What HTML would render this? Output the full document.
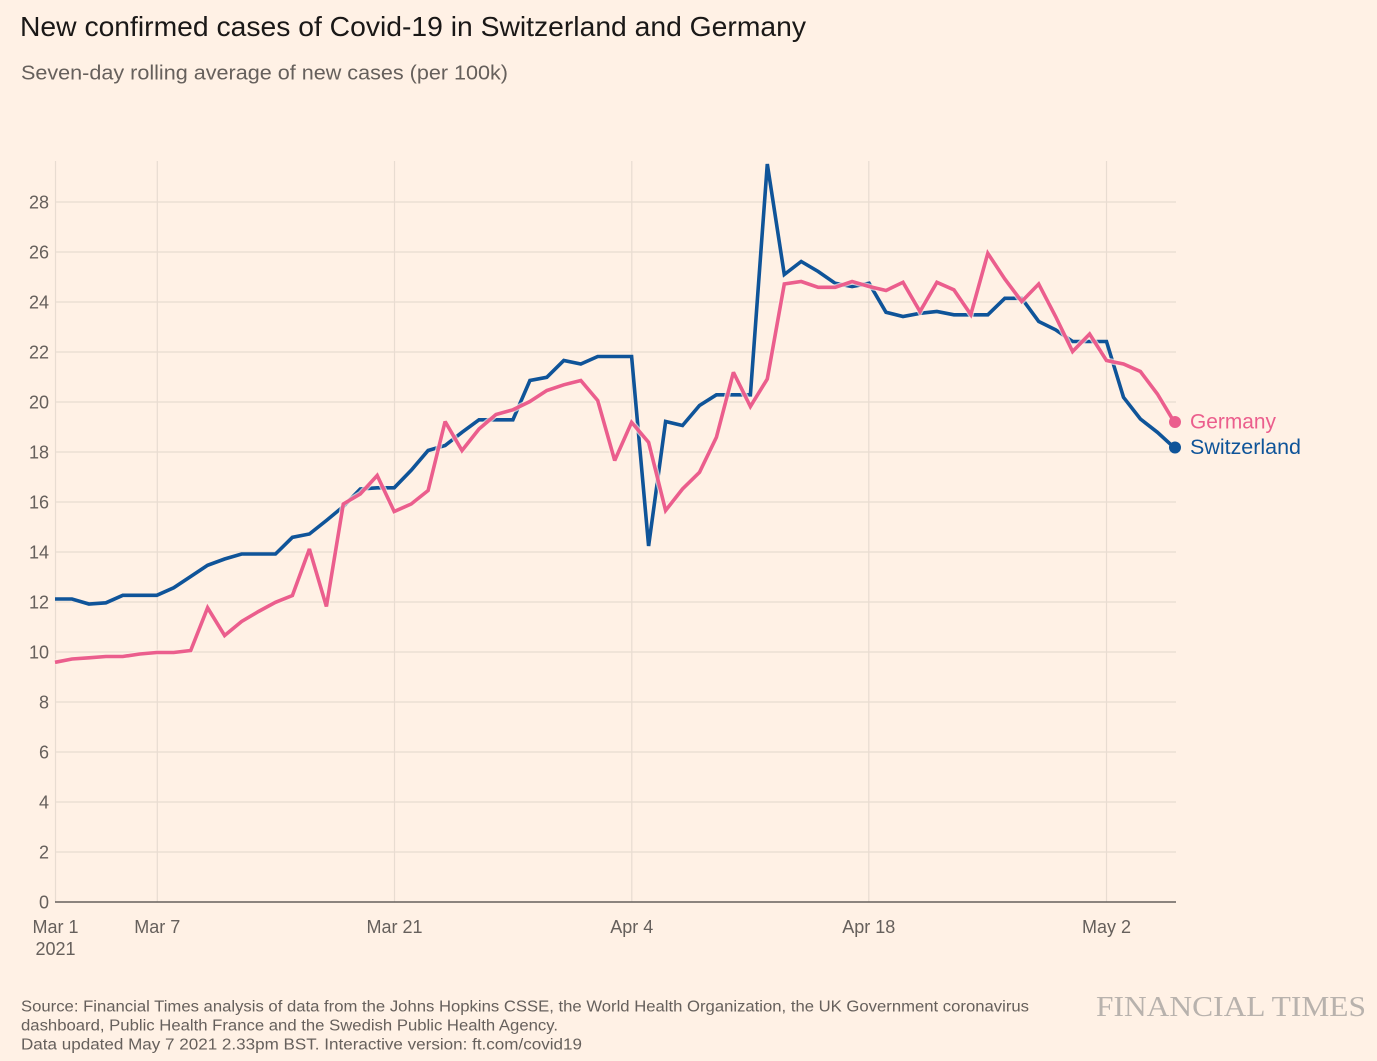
<!DOCTYPE html>
<html>
<head>
<meta charset="utf-8">
<style>
  html,body{margin:0;padding:0;background:#fff1e5;}
  svg{display:block;}
  text{font-family:"Liberation Sans",sans-serif;}
</style>
</head>
<body>
<svg width="1377" height="1061" viewBox="0 0 1377 1061" xmlns="http://www.w3.org/2000/svg">
  <rect x="0" y="0" width="1377" height="1061" fill="#fff1e5"/>

  <!-- Title / subtitle -->
  <text x="20" y="36" font-size="28" fill="#1a1817" textLength="786" lengthAdjust="spacingAndGlyphs">New confirmed cases of Covid-19 in Switzerland and Germany</text>
  <text x="21" y="79.5" font-size="20" fill="#66605c" textLength="487" lengthAdjust="spacingAndGlyphs">Seven-day rolling average of new cases (per 100k)</text>

  <!-- Horizontal gridlines -->
  <g stroke="#e8dcd1" stroke-width="1.3">
    <line x1="55" y1="852" x2="1176" y2="852"/>
    <line x1="55" y1="802" x2="1176" y2="802"/>
    <line x1="55" y1="752" x2="1176" y2="752"/>
    <line x1="55" y1="702" x2="1176" y2="702"/>
    <line x1="55" y1="652" x2="1176" y2="652"/>
    <line x1="55" y1="602" x2="1176" y2="602"/>
    <line x1="55" y1="552" x2="1176" y2="552"/>
    <line x1="55" y1="502" x2="1176" y2="502"/>
    <line x1="55" y1="452" x2="1176" y2="452"/>
    <line x1="55" y1="402" x2="1176" y2="402"/>
    <line x1="55" y1="352" x2="1176" y2="352"/>
    <line x1="55" y1="302" x2="1176" y2="302"/>
    <line x1="55" y1="252" x2="1176" y2="252"/>
    <line x1="55" y1="202" x2="1176" y2="202"/>
  </g>
  <!-- Vertical gridlines -->
  <g stroke="#e8dcd1" stroke-width="1.2">
    <line x1="55.5" y1="161" x2="55.5" y2="902"/>
    <line x1="157.3" y1="161" x2="157.3" y2="902"/>
    <line x1="394.5" y1="161" x2="394.5" y2="902"/>
    <line x1="631.8" y1="161" x2="631.8" y2="902"/>
    <line x1="868.8" y1="161" x2="868.8" y2="902"/>
    <line x1="1106.5" y1="161" x2="1106.5" y2="902"/>
  </g>
  <!-- Axis line -->
  <line x1="55" y1="902" x2="1176" y2="902" stroke="#66605c" stroke-width="1.4"/>

  <!-- Y tick labels -->
  <g font-size="18" fill="#66605c" text-anchor="end">
    <text x="49" y="908.5">0</text>
    <text x="49" y="858.5">2</text>
    <text x="49" y="808.5">4</text>
    <text x="49" y="758.5">6</text>
    <text x="49" y="708.5">8</text>
    <text x="49" y="658.5">10</text>
    <text x="49" y="608.5">12</text>
    <text x="49" y="558.5">14</text>
    <text x="49" y="508.5">16</text>
    <text x="49" y="458.5">18</text>
    <text x="49" y="408.5">20</text>
    <text x="49" y="358.5">22</text>
    <text x="49" y="308.5">24</text>
    <text x="49" y="258.5">26</text>
    <text x="49" y="208.5">28</text>
  </g>

  <!-- X tick labels -->
  <g font-size="18" fill="#66605c" text-anchor="middle">
    <text x="55.5" y="933">Mar 1</text>
    <text x="55.5" y="955">2021</text>
    <text x="157.3" y="933">Mar 7</text>
    <text x="394.5" y="933">Mar 21</text>
    <text x="631.8" y="933">Apr 4</text>
    <text x="868.8" y="933">Apr 18</text>
    <text x="1106.5" y="933">May 2</text>
  </g>

  <!-- Switzerland series -->
  <polyline fill="none" stroke="#0f5499" stroke-width="3.6" stroke-linejoin="miter" stroke-miterlimit="2.5"
    points="55,599 72,599 88.9,604 105.9,602.8 122.8,595.3 139.8,595.3 156.8,595.3 173.7,587.8 190.7,576.5 207.6,565.3 224.6,559 241.6,554 258.5,554 275.5,554 292.4,537.3 309.4,534 326.4,520.5 343.3,506.5 360.3,489 377.2,487.8 394.2,487.8 411.2,470.3 428.1,450.5 445.1,445.5 462,432.3 479,419.8 496,419.8 512.9,419.8 529.9,380.5 546.8,377.3 563.8,360.5 580.8,364 597.7,356.5 614.7,356.5 631.6,356.5 648.6,546 665.6,421.5 682.5,425.5 699.5,405.5 716.4,394.8 733.4,394.8 750.4,394.8 767.3,164 784.3,274.5 801.2,261.5 818.2,271.5 835.2,283.3 852.1,286.5 869.1,283.3 886,312.3 903,316.5 920,313.3 936.9,311.5 953.9,314.8 970.8,314.8 987.8,314.8 1004.8,298.3 1021.7,298.3 1038.7,321.5 1055.6,329.8 1072.6,341.5 1089.6,341.5 1106.5,341.5 1123.5,397.3 1140.4,419 1157.4,432.3 1174.4,447.8"/>

  <!-- Germany series (halo + line) -->
  <polyline fill="none" stroke="#fff1e5" stroke-opacity="0.7" stroke-width="6" stroke-linejoin="miter" stroke-miterlimit="2.5"
    points="55,662.3 72,659 88.9,657.8 105.9,656.5 122.8,656.5 139.8,654 156.8,652.5 173.7,652.5 190.7,650.5 207.6,607.8 224.6,635.5 241.6,621.5 258.5,611.5 275.5,602.3 292.4,595.5 309.4,549 326.4,606.5 343.3,504 360.3,494 377.2,475.5 394.2,511.5 411.2,504 428.1,490.5 445.1,421.5 462,450.5 479,429 496,414.5 512.9,409.8 529.9,401.5 546.8,390.5 563.8,384.8 580.8,380.5 597.7,400.5 614.7,460.5 631.6,422.3 648.6,442.3 665.6,510.5 682.5,489 699.5,472.3 716.4,437.3 733.4,372.3 750.4,406.5 767.3,379 784.3,284 801.2,281.5 818.2,287.3 835.2,287.3 852.1,281.5 869.1,286.5 886,290.5 903,282.3 920,311.5 936.9,282.3 953.9,289.8 970.8,314.5 987.8,253.3 1004.8,279 1021.7,301.5 1038.7,284 1055.6,316.5 1072.6,351.5 1089.6,334 1106.5,360.5 1123.5,364 1140.4,371.5 1157.4,394 1174.4,422.3"/>
  <polyline fill="none" stroke="#eb5e8d" stroke-width="3.6" stroke-linejoin="miter" stroke-miterlimit="2.5"
    points="55,662.3 72,659 88.9,657.8 105.9,656.5 122.8,656.5 139.8,654 156.8,652.5 173.7,652.5 190.7,650.5 207.6,607.8 224.6,635.5 241.6,621.5 258.5,611.5 275.5,602.3 292.4,595.5 309.4,549 326.4,606.5 343.3,504 360.3,494 377.2,475.5 394.2,511.5 411.2,504 428.1,490.5 445.1,421.5 462,450.5 479,429 496,414.5 512.9,409.8 529.9,401.5 546.8,390.5 563.8,384.8 580.8,380.5 597.7,400.5 614.7,460.5 631.6,422.3 648.6,442.3 665.6,510.5 682.5,489 699.5,472.3 716.4,437.3 733.4,372.3 750.4,406.5 767.3,379 784.3,284 801.2,281.5 818.2,287.3 835.2,287.3 852.1,281.5 869.1,286.5 886,290.5 903,282.3 920,311.5 936.9,282.3 953.9,289.8 970.8,314.5 987.8,253.3 1004.8,279 1021.7,301.5 1038.7,284 1055.6,316.5 1072.6,351.5 1089.6,334 1106.5,360.5 1123.5,364 1140.4,371.5 1157.4,394 1174.4,422.3"/>

  <!-- End dots & labels -->
  <circle cx="1175" cy="422" r="6" fill="#eb5e8d"/>
  <circle cx="1175" cy="447.5" r="6" fill="#0f5499"/>
  <text x="1190" y="428.5" font-size="21" fill="#eb5e8d" textLength="86" lengthAdjust="spacingAndGlyphs">Germany</text>
  <text x="1190" y="454" font-size="21" fill="#0f5499" textLength="111" lengthAdjust="spacingAndGlyphs">Switzerland</text>

  <!-- Footer -->
  <g font-size="15.5" fill="#66605c">
    <text x="21" y="1011.7" textLength="1008" lengthAdjust="spacingAndGlyphs">Source: Financial Times analysis of data from the Johns Hopkins CSSE, the World Health Organization, the UK Government coronavirus</text>
    <text x="21" y="1030.7" textLength="537" lengthAdjust="spacingAndGlyphs">dashboard, Public Health France and the Swedish Public Health Agency.</text>
    <text x="21" y="1049.5" textLength="561" lengthAdjust="spacingAndGlyphs">Data updated May 7 2021 2.33pm BST. Interactive version: ft.com/covid19</text>
  </g>
  <text x="1096" y="1016" font-size="29" fill="#b8b2ad" style="font-family:'Liberation Serif',serif" textLength="270" lengthAdjust="spacingAndGlyphs">FINANCIAL TIMES</text>
</svg>
</body>
</html>
